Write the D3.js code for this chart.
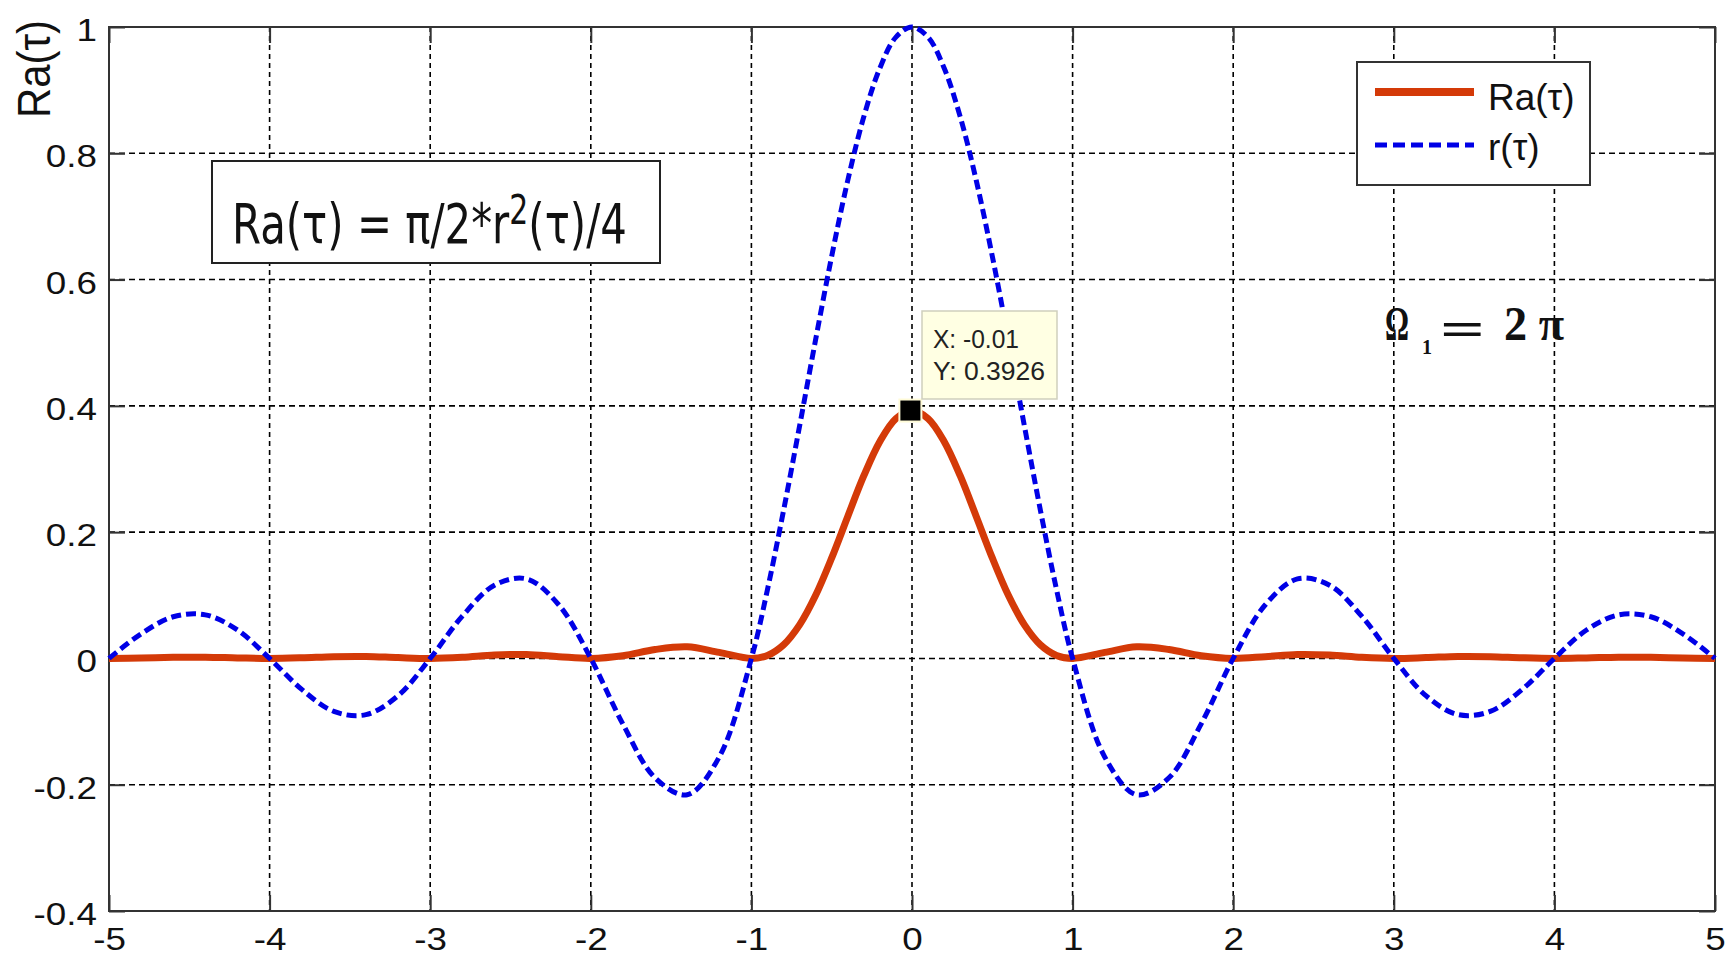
<!DOCTYPE html>
<html>
<head>
<meta charset="utf-8">
<script src="https://cdn.jsdelivr.net/npm/d3@7"></script>
<style>
  body { margin: 0; background: #fff; }
</style>
</head>
<body>
<script>
// values
var tau = [-5, -4.8, -4.6, -4.4, -4.2, -4, -3.8, -3.6, -3.4, -3.2, -3, -2.8, -2.6, -2.4, -2.2, -2,
    -1.8, -1.6, -1.4, -1.2, -1, -0.9, -0.8, -0.7, -0.6, -0.5, -0.4, -0.3, -0.2, -0.1, 0,
    0.1, 0.2, 0.3, 0.4, 0.5, 0.6, 0.7, 0.8, 0.9, 1, 1.2, 1.4, 1.6, 1.8, 2,
    2.2, 2.4, 2.6, 2.8, 3, 3.2, 3.4, 3.6, 3.8, 4, 4.2, 4.4, 4.6, 4.8, 5];

var rTau = [0, 0.039, 0.066, 0.069, 0.045, 0, -0.049, -0.084, -0.089, -0.059, 0, 0.067, 0.116, 0.126, 0.085, 0,
    -0.104, -0.189, -0.216, -0.156, 0, 0.109, 0.234, 0.368, 0.505, 0.637, 0.757, 0.858, 0.935, 0.984, 1,
    0.984, 0.935, 0.858, 0.757, 0.637, 0.505, 0.368, 0.234, 0.109, 0, -0.156, -0.216, -0.189, -0.104, 0,
    0.085, 0.126, 0.116, 0.067, 0, -0.059, -0.089, -0.084, -0.049, 0, 0.045, 0.069, 0.066, 0.039, 0];

var raTau = [0, 0.0006, 0.0017, 0.0019, 0.0008, 0, 0.0010, 0.0028, 0.0031, 0.0013, 0, 0.0018, 0.0053, 0.0062, 0.0028, 0,
    0.0042, 0.0141, 0.0184, 0.0095, 0, 0.0047, 0.0215, 0.0532, 0.1000, 0.1592, 0.2249, 0.2894, 0.3437, 0.3799, 0.3927,
    0.3799, 0.3437, 0.2894, 0.2249, 0.1592, 0.1000, 0.0532, 0.0215, 0.0047, 0, 0.0095, 0.0184, 0.0141, 0.0042, 0,
    0.0028, 0.0062, 0.0053, 0.0018, 0, 0.0013, 0.0031, 0.0028, 0.0010, 0, 0.0008, 0.0019, 0.0017, 0.0006, 0];

var xTicks = [-5, -4, -3, -2, -1, 0, 1, 2, 3, 4, 5];
var yTicks = [-0.4, -0.2, 0, 0.2, 0.4, 0.6, 0.8, 1];
var seriesNames = ["Ra(\u03c4)", "r(\u03c4)"];
var tipX = -0.01, tipY = 0.3926;

var width = 1729, height = 956;
var margin = { left: 109, right: 14, top: 27, bottom: 45 };
var red = "#d43a08", blue = "#0000e6";
var sans = "'Liberation Sans', Arial, sans-serif";
var serif = "'Liberation Serif', 'DejaVu Serif', serif";

var svg = d3.select("body").append("svg")
    .attr("width", width)
    .attr("height", height)
    .attr("font-family", sans);

svg.append("rect").attr("width", width).attr("height", height).attr("fill", "#fff");

var x = d3.scaleLinear().domain([-5, 5]).range([margin.left, width - margin.right]);
var y = d3.scaleLinear().domain([-0.4, 1]).range([height - margin.bottom, margin.top]);

// stretch a text horizontally so it covers w pixels
function fit(t, tx, ty, w) {
    var bw = t.node().getBBox().width;
    t.attr("transform", "translate(" + tx + "," + ty + ") scale(" + (w / bw) + ",1)");
    return t;
}

// dotted grid
var grid = svg.append("g").attr("class", "grid");
grid.selectAll("line.v")
    .data(xTicks.slice(1, -1))
    .enter().append("line").attr("class", "v")
    .attr("x1", function(d) { return x(d); })
    .attr("x2", function(d) { return x(d); })
    .attr("y1", y(1))
    .attr("y2", y(-0.4))
    .attr("stroke", "#000").attr("stroke-width", 1.6).attr("stroke-dasharray", "5,4");
grid.selectAll("line.h")
    .data(yTicks.slice(1, -1))
    .enter().append("line").attr("class", "h")
    .attr("y1", function(d) { return y(d); })
    .attr("y2", function(d) { return y(d); })
    .attr("x1", x(-5))
    .attr("x2", x(5))
    .attr("stroke", "#000").attr("stroke-width", 1.6).attr("stroke-dasharray", "6,4");

// axes with inward ticks on all four sides
var tk = 16;
var fmt = function(d) { return String(d); };
var axB = svg.append("g").attr("transform", "translate(0," + y(-0.4) + ")")
    .call(d3.axisBottom(x).tickValues(xTicks).tickSize(-tk).tickSizeOuter(0).tickFormat(fmt));
var axT = svg.append("g").attr("transform", "translate(0," + y(1) + ")")
    .call(d3.axisTop(x).tickValues(xTicks).tickSize(-tk).tickSizeOuter(0).tickFormat(""));
var axL = svg.append("g").attr("transform", "translate(" + x(-5) + ",0)")
    .call(d3.axisLeft(y).tickValues(yTicks).tickSize(-tk).tickSizeOuter(0).tickFormat(fmt));
var axR = svg.append("g").attr("transform", "translate(" + x(5) + ",0)")
    .call(d3.axisRight(y).tickValues(yTicks).tickSize(-tk).tickSizeOuter(0).tickFormat(""));

[axB, axT, axL, axR].forEach(function(a) {
    a.select(".domain").remove();
    a.selectAll(".tick line").attr("stroke", "#333").attr("stroke-width", 2);
});

axB.selectAll(".tick text")
    .attr("y", 39).attr("dy", 0)
    .attr("font-size", 32).attr("fill", "#111")
    .attr("font-family", sans)
    .attr("transform", "scale(1.15,1)");
axL.selectAll(".tick text")
    .attr("x", -10.5).attr("dy", "0.42em")
    .attr("font-size", 32).attr("fill", "#111")
    .attr("font-family", sans)
    .attr("transform", "scale(1.15,1)");

// axes box
svg.append("rect")
    .attr("x", x(-5)).attr("y", y(1))
    .attr("width", x(5) - x(-5)).attr("height", y(-0.4) - y(1))
    .attr("fill", "none").attr("stroke", "#333").attr("stroke-width", 2);

// y label
svg.append("text")
    .attr("transform", "translate(50,69) rotate(-90)")
    .attr("text-anchor", "middle")
    .attr("font-size", 46).attr("fill", "#111")
    .attr("textLength", 98).attr("lengthAdjust", "spacingAndGlyphs")
    .text(seriesNames[0]);

// curves
var pts = tau.map(function(t, i) { return { t: t, r: rTau[i], ra: raTau[i] }; });

var lineRa = d3.line().curve(d3.curveCatmullRom)
    .x(function(d) { return x(d.t); }).y(function(d) { return y(d.ra); });
var lineR = d3.line().curve(d3.curveCatmullRom)
    .x(function(d) { return x(d.t); }).y(function(d) { return y(d.r); });

svg.append("path").datum(pts)
    .attr("d", lineRa)
    .attr("fill", "none").attr("stroke", red).attr("stroke-width", 7)
    .attr("stroke-linejoin", "round");
svg.append("path").datum(pts)
    .attr("d", lineR)
    .attr("fill", "none").attr("stroke", blue).attr("stroke-width", 5)
    .attr("stroke-dasharray", "10,5");

// formula box
svg.append("rect")
    .attr("x", 212).attr("y", 161).attr("width", 448).attr("height", 102)
    .attr("fill", "#fff").attr("stroke", "#222").attr("stroke-width", 2);
var formula = svg.append("text")
    .attr("font-family", "'DejaVu Sans', sans-serif")
    .attr("font-size", 56).attr("fill", "#111");
formula.append("tspan").text("Ra(\u03c4) = \u03c0/2*r");
formula.append("tspan").attr("font-size", 40).attr("dy", -19).text("2");
formula.append("tspan").attr("dy", 19).text("(\u03c4)/4");
fit(formula, 232, 243, 395);

// omega annotation
function serifText(str, size) {
    return svg.append("text").attr("font-family", serif).attr("font-size", size)
        .attr("font-weight", "bold").attr("fill", "#111").text(str);
}
fit(serifText("\u03a9", 48), 1385, 340, 24);
serifText("1", 20).attr("x", 1427).attr("y", 354).attr("text-anchor", "middle");
fit(serifText("=", 48), 1440, 345, 45);
fit(serifText("2 \u03c0", 48), 1504, 340, 60);

// legend
var leg = svg.append("g").attr("class", "legend");
leg.append("rect")
    .attr("x", 1357).attr("y", 62).attr("width", 233).attr("height", 123)
    .attr("fill", "#fff").attr("stroke", "#333").attr("stroke-width", 2);
leg.append("line").attr("x1", 1375).attr("x2", 1474).attr("y1", 92).attr("y2", 92)
    .attr("stroke", red).attr("stroke-width", 8);
leg.append("line").attr("x1", 1375).attr("x2", 1474).attr("y1", 145).attr("y2", 145)
    .attr("stroke", blue).attr("stroke-width", 5).attr("stroke-dasharray", "12,6");
leg.append("text").attr("x", 1488).attr("y", 110).attr("font-size", 37).attr("fill", "#111").text(seriesNames[0]);
leg.append("text").attr("x", 1488).attr("y", 160).attr("font-size", 37).attr("fill", "#111").text(seriesNames[1]);

// data tip
svg.append("rect")
    .attr("x", x(tipX) - 11).attr("y", y(tipY) - 11).attr("width", 22).attr("height", 22)
    .attr("fill", "#000").attr("stroke", "#fffbd8").attr("stroke-width", 2);
var tip = svg.append("g");
tip.append("rect")
    .attr("x", 922).attr("y", 311).attr("width", 135).attr("height", 88)
    .attr("fill", "#ffffe3").attr("stroke", "#cfcfbd").attr("stroke-width", 1.5);
fit(tip.append("text").attr("font-size", 26).attr("fill", "#222").text("X: " + tipX), 933, 348, 86);
fit(tip.append("text").attr("font-size", 26).attr("fill", "#222").text("Y: " + tipY), 933, 380, 112);
</script>
</body>
</html>
